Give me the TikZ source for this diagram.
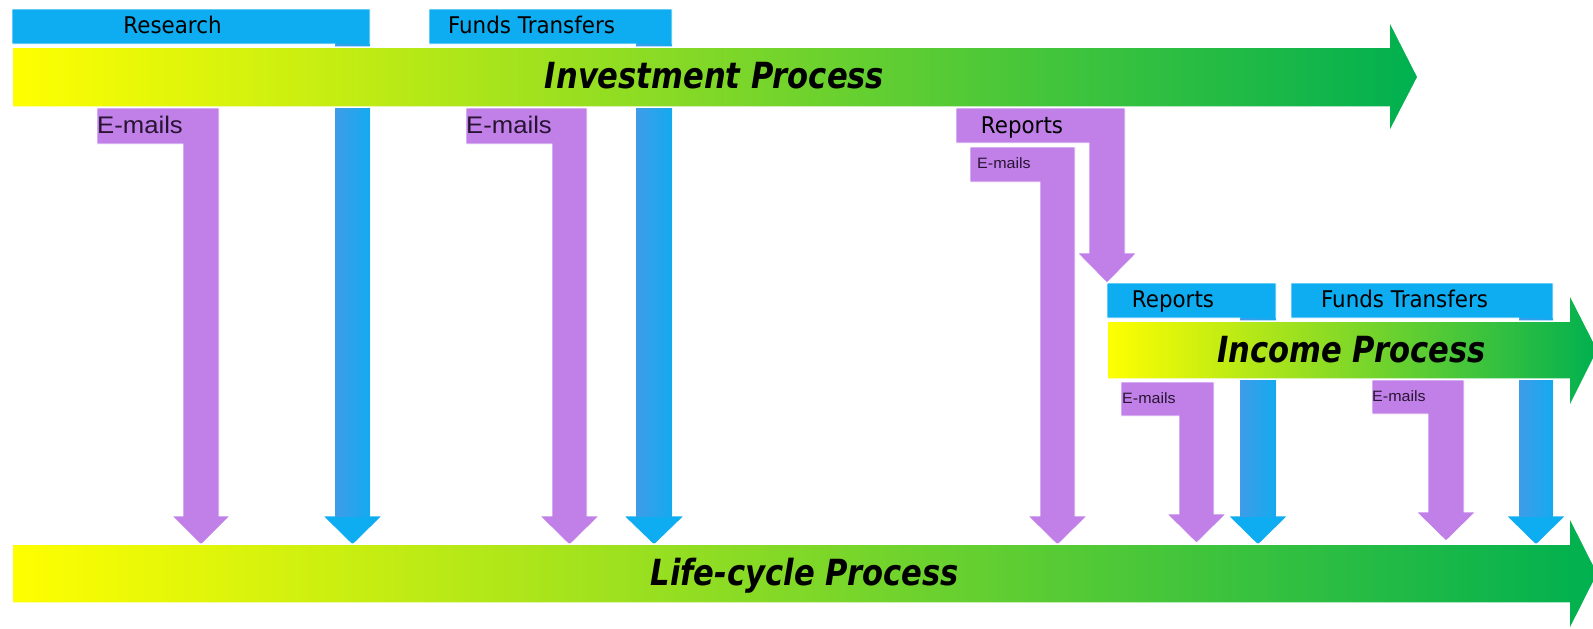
\documentclass[tikz,border=0pt]{standalone}
\usepackage{fontspec}
\newfontfamily\labfont[FakeStretch=0.93]{DejaVu Sans}
\newfontfamily\procfont[FakeStretch=0.85]{DejaVu Sans}
\newfontfamily\mailfont[FakeStretch=1.07]{Liberation Sans}
\definecolor{bluef}{RGB}{14,172,240}
\definecolor{bluel}{RGB}{62,156,232}
\definecolor{bluer}{RGB}{20,170,240}
\definecolor{purp}{RGB}{192,128,232}
\definecolor{gyel}{RGB}{255,255,0}
\definecolor{ggrn}{RGB}{0,176,80}
\definecolor{mailtxt}{RGB}{40,20,50}
\begin{document}
\begin{tikzpicture}[x=1pt,y=-1pt,
  flagst/.style={fill=bluef, draw=white, line width=0.8pt},
  stemst/.style={left color=bluel, right color=bluer},
  purpst/.style={fill=purp, draw=white, line width=0.8pt},
  bandst/.style={left color=gyel, right color=ggrn, draw=white, line width=1.5pt},
  lab/.style={font=\labfont\fontsize{23}{26}\selectfont, text=black, inner sep=0pt, anchor=base},
  mailbig/.style={font=\mailfont\fontsize{24}{27}\selectfont, text=mailtxt, inner sep=0pt, anchor=base west},
  mailsmall/.style={font=\mailfont\fontsize{15}{18}\selectfont, text=mailtxt, inner sep=0pt, anchor=base west},
  proc/.style={font=\procfont\bfseries\itshape\fontsize{36}{40}\selectfont, text=black, inner sep=0pt, anchor=base}]
\clip (0,0) rectangle (1593,629);
\useasboundingbox (0,0) rectangle (1593,629);
% blue flags (behind the bands)
\path[flagst] (12,9) -- (370,9) -- (370,516) -- (382,516) -- (352.5,545) -- (323,516) -- (335,516) -- (335,44) -- (12,44) -- cycle;
\path[stemst] (335.4,44) rectangle (369.6,516);
\path[flagst] (429,9) -- (672,9) -- (672,516) -- (684,516) -- (654,545) -- (624,516) -- (636,516) -- (636,44) -- (429,44) -- cycle;
\path[stemst] (636.4,44) rectangle (671.6,516);
\path[flagst] (1107,283) -- (1276,283) -- (1276,516) -- (1287.5,516) -- (1258,545) -- (1228.5,516) -- (1240,516) -- (1240,318) -- (1107,318) -- cycle;
\path[stemst] (1240.4,318) rectangle (1275.6,516);
\path[flagst] (1291,283) -- (1553,283) -- (1553,516) -- (1565.5,516) -- (1536,545) -- (1506.5,516) -- (1519,516) -- (1519,318) -- (1291,318) -- cycle;
\path[stemst] (1519.4,318) rectangle (1552.6,516);
% purple arrows
\path[purpst] (97,108) -- (219,108) -- (219,516) -- (230,516) -- (201,545) -- (172,516) -- (183,516) -- (183,144) -- (97,144) -- cycle;
\path[purpst] (466,108) -- (587,108) -- (587,516) -- (599,516) -- (569.5,545) -- (540,516) -- (552,516) -- (552,144) -- (466,144) -- cycle;
\path[purpst] (956,108) -- (1125,108) -- (1125,253) -- (1136.5,253) -- (1107,283) -- (1077.5,253) -- (1089,253) -- (1089,143) -- (956,143) -- cycle;
\path[purpst] (970,147) -- (1075,147) -- (1075,516) -- (1087,516) -- (1057.5,545) -- (1028,516) -- (1040,516) -- (1040,182) -- (970,182) -- cycle;
\path[purpst] (1121,382) -- (1214,382) -- (1214,514) -- (1226,514) -- (1196.5,543) -- (1167,514) -- (1179,514) -- (1179,416) -- (1121,416) -- cycle;
\path[purpst] (1372,380) -- (1464,380) -- (1464,512) -- (1475.5,512) -- (1446,541) -- (1416.5,512) -- (1428,512) -- (1428,414) -- (1372,414) -- cycle;
% process bands
\path[bandst] (12,47) -- (1389,47) -- (1389,20) -- (1418,77) -- (1389,133) -- (1389,107) -- (12,107) -- cycle;
\path[bandst] (1107,321) -- (1569,321) -- (1569,293) -- (1598,350) -- (1569,408) -- (1569,379) -- (1107,379) -- cycle;
\path[bandst] (12,544) -- (1569,544) -- (1569,516) -- (1598,573.5) -- (1569,631) -- (1569,603) -- (12,603) -- cycle;
% labels
\node[lab] (research) at (172.5,34) {Research};
\node[lab] (funds1) at (531.5,34) {Funds Transfers};
\node[lab] (reports1) at (1022,133) {Reports};
\node[lab] (reports2) at (1173,307) {Reports};
\node[lab] (funds2) at (1404.5,307) {Funds Transfers};
\node[mailbig] (mail1) at (97,133) {E-mails};
\node[mailbig] (mail2) at (466,133) {E-mails};
\node[mailsmall] (mail3) at (977,168) {E-mails};
\node[mailsmall] (mail4) at (1122,403) {E-mails};
\node[mailsmall] (mail5) at (1372,401) {E-mails};
\node[proc] (invest) at (714.5,88) {Investment Process};
\node[proc] (income) at (1351.5,362) {Income Process};
\node[proc] (life) at (804.5,585) {Life-cycle Process};
\end{tikzpicture}
\end{document}
